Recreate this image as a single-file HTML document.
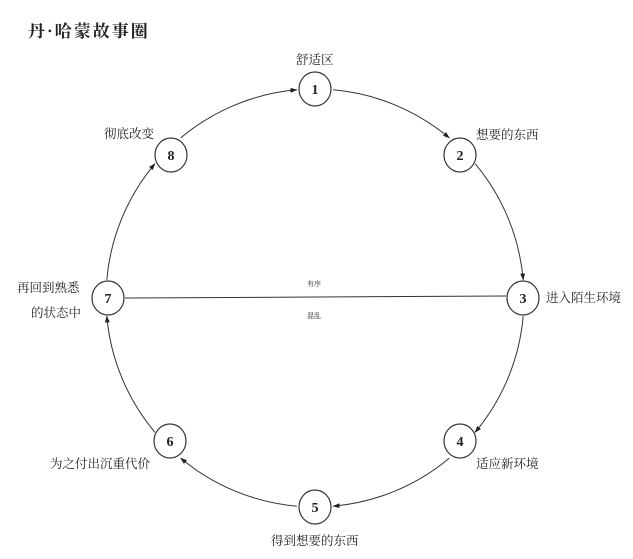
<!DOCTYPE html>
<html><head><meta charset="utf-8"><style>
body{margin:0;background:#fff;width:633px;height:559px;overflow:hidden}
svg{display:block}
text{font-family:"Liberation Serif","Noto Serif CJK SC",serif;fill:#222}
.n{font-weight:bold;font-size:14px;text-anchor:middle}
.l{font-size:12.5px;font-family:"Liberation Sans","Noto Sans CJK SC",sans-serif}
</style></head><body>
<svg width="633" height="559" viewBox="0 0 633 559">
<defs><marker id="a" viewBox="0 0 10 10" refX="9" refY="5" markerWidth="7" markerHeight="7" orient="auto"><path d="M0,1.5L10,5L0,8.5z" fill="#222"/></marker></defs>
<text x="28" y="37" style="font-family:'Noto Serif CJK SC',serif;font-weight:bold;font-size:17px;letter-spacing:2px">丹·哈蒙故事圈</text>
<g fill="none" stroke="#333" stroke-width="1" marker-end="url(#a)">
<path d="M333.2,89.8 A209,209 0 0 1 449.3,137.9"/>
<path d="M475.1,163.7 A209,209 0 0 1 523.2,279.8"/>
<path d="M523.2,316.2 A209,209 0 0 1 475.1,432.3"/>
<path d="M449.3,458.1 A209,209 0 0 1 333.2,506.2"/>
<path d="M296.8,506.2 A209,209 0 0 1 180.7,458.1"/>
<path d="M154.9,432.3 A209,209 0 0 1 106.8,316.2"/>
<path d="M106.8,279.8 A209,209 0 0 1 154.9,163.7"/>
<path d="M180.7,137.9 A209,209 0 0 1 296.8,89.8"/>
</g>
<line x1="125" y1="298" x2="506" y2="296" stroke="#333" stroke-width="1"/>
<g fill="#fff" stroke="#333" stroke-width="1.2">
<ellipse cx="315" cy="89" rx="16" ry="17"/>
<ellipse cx="460" cy="155" rx="16" ry="17"/>
<ellipse cx="523" cy="298" rx="16" ry="17"/>
<ellipse cx="460" cy="441" rx="16" ry="17"/>
<ellipse cx="315" cy="507" rx="16" ry="17"/>
<ellipse cx="170" cy="441" rx="16" ry="17"/>
<ellipse cx="108" cy="298" rx="16" ry="17"/>
<ellipse cx="171" cy="155" rx="16" ry="17"/>
</g>
<g class="n">
<text x="315" y="94">1</text><text x="460" y="160">2</text><text x="523" y="303">3</text><text x="460" y="446">4</text>
<text x="315" y="512">5</text><text x="170" y="446">6</text><text x="108" y="303">7</text><text x="171" y="160">8</text>
</g>
<g class="l">
<text x="296" y="64">舒适区</text>
<text x="476" y="139">想要的东西</text>
<text x="546" y="302">进入陌生环境</text>
<text x="476" y="468">适应新环境</text>
<text x="271" y="545">得到想要的东西</text>
<text x="50" y="468">为之付出沉重代价</text>
<text x="17" y="292">再回到熟悉</text>
<text x="31" y="317">的状态中</text>
<text x="104" y="138">彻底改变</text>
</g>
<text x="307" y="286" style="font-size:7px">有序</text>
<text x="307" y="318" style="font-size:7px">混乱</text>
</svg>
</body></html>
